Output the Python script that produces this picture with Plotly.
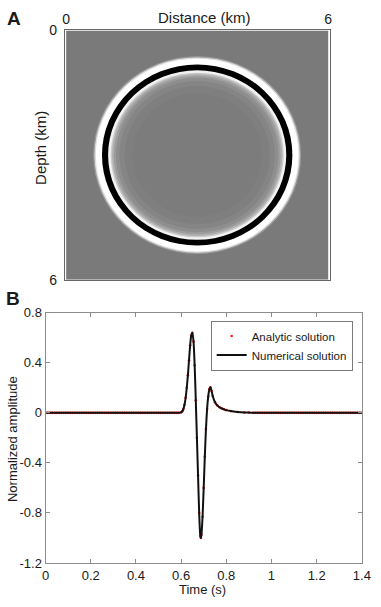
import numpy as np
import plotly.graph_objects as go

# ---------------- Panel A: wavefield snapshot (concentric rings) ----------------
src_x_km = 3.0
src_z_km = 3.0
ring_radius_km = [2.38, 2.35, 2.32, 2.18, 2.04, 1.98, 1.95, 1.91, 1.86, 1.78, 1.66, 1.48]
ring_shade = ["#9c9c9c", "#dedede", "#ffffff", "#000000", "#f2f2f2", "#cacaca",
              "#b0b0b0", "#9c9c9c", "#8e8e8e", "#858585", "#7f7f7f", "#7c7c7c"]
model_size_km = 6
background_shade = "#7a7a7a"
a_ticks = [0, 6]
a_ticktext = ["0", "6"]

# ---------------- Panel B: trace comparison ----------------
time_pre = [round(0.01 * i, 2) for i in range(59)]           # 0.00 .. 0.58
amp_pre = [0.0] * len(time_pre)
time_wave = [0.590, 0.600, 0.605, 0.610, 0.615, 0.620, 0.625, 0.630, 0.635, 0.640,
             0.645, 0.650, 0.655, 0.660, 0.665, 0.670, 0.675, 0.680, 0.685, 0.6875,
             0.690, 0.695, 0.700, 0.705, 0.710, 0.715, 0.720, 0.725, 0.730, 0.735,
             0.740, 0.750, 0.760, 0.770, 0.780, 0.790, 0.800, 0.820, 0.850, 0.880,
             0.900, 0.920]
amp_wave = [0.000, 0.004, 0.012, 0.030, 0.065, 0.120, 0.200, 0.300, 0.420, 0.540,
            0.620, 0.640, 0.570, 0.380, 0.100, -0.200, -0.500, -0.800, -0.985, -1.000,
            -0.975, -0.830, -0.600, -0.350, -0.130, 0.030, 0.130, 0.190, 0.205, 0.175,
            0.135, 0.085, 0.060, 0.045, 0.035, 0.028, 0.022, 0.014, 0.007, 0.003,
            0.002, 0.000]
time_post = [round(0.93 + 0.01 * i, 2) for i in range(48)]    # 0.93 .. 1.40
amp_post = [0.0] * len(time_post)

time_s = time_pre + time_wave + time_post
analytic = amp_pre + amp_wave + amp_post
numerical = amp_pre + amp_wave + amp_post

b_yticks = [-1.2, -0.8, -0.4, 0, 0.4, 0.8]
b_yticktext = ["-1.2", "-0.8", "-0.4", "0", "0.4", "0.8"]
b_xticks = [0, 0.2, 0.4, 0.6, 0.8, 1.0, 1.2, 1.4]
b_xticktext = ["0", "0.2", "0.4", "0.6", "0.8", "1", "1.2", "1.4"]

W, H = 381, 607
FONT = "Liberation Sans, Arial, sans-serif"
TXT = "#1a1a1a"


def px(x):
    return x / W


def py(y):
    return 1 - y / H


fig = go.Figure()

fig.add_trace(go.Scatter(
    x=time_s, y=analytic, mode="markers", name="Analytic solution",
    marker=dict(color="#ff1a1a", size=2.6), xaxis="x2", yaxis="y2"))
fig.add_trace(go.Scatter(
    x=time_s, y=numerical, mode="lines", name="Numerical solution",
    line=dict(color="#111111", width=2, shape="spline", smoothing=0.6),
    xaxis="x2", yaxis="y2"))

shapes = [dict(type="rect", xref="x", yref="y", x0=0, x1=model_size_km, y0=0, y1=model_size_km,
               fillcolor=background_shade, line=dict(width=0), layer="below")]
for r, c in zip(ring_radius_km, ring_shade):
    shapes.append(dict(type="circle", xref="x", yref="y",
                       x0=src_x_km - r, x1=src_x_km + r, y0=src_z_km - r, y1=src_z_km + r,
                       fillcolor=c, line=dict(width=0), layer="below"))

axis_gray = "#8c8c8c"
fig.update_layout(
    width=W, height=H, margin=dict(l=0, r=0, t=0, b=0),
    paper_bgcolor="white", plot_bgcolor="white",
    font=dict(family=FONT, color=TXT, size=13),
    shapes=shapes,
    xaxis=dict(domain=[px(63), px(337)], anchor="y", range=[-0.03, 6.03], side="top",
               tickvals=a_ticks, ticktext=a_ticktext, ticks="", showgrid=False, zeroline=False,
               showline=True, linecolor="#666666", mirror=True, tickfont=dict(size=14),
               ticklabelstandoff=0),
    yaxis=dict(domain=[py(279), py(23)], anchor="x", range=[6, 0],
               tickvals=a_ticks, ticktext=a_ticktext, ticks="", showgrid=False, zeroline=False,
               showline=True, linecolor="#666666", mirror=True, tickfont=dict(size=14),
               ticklabelstandoff=4),
    xaxis2=dict(domain=[px(43), px(370.5)], anchor="y2", range=[0, 1.4],
                tickvals=b_xticks, ticktext=b_xticktext, ticks="inside", ticklen=4,
                tickcolor=axis_gray, showline=True, linecolor=axis_gray, linewidth=1,
                mirror="ticks", showgrid=False, zeroline=False, tickfont=dict(size=13),
                ticklabeloverflow="allow"),
    yaxis2=dict(domain=[py(570), py(313)], anchor="x2", range=[-1.2, 0.8],
                tickvals=b_yticks, ticktext=b_yticktext, ticks="inside", ticklen=4,
                tickcolor=axis_gray, showline=True, linecolor=axis_gray, linewidth=1,
                mirror="ticks", showgrid=False, zeroline=False, tickfont=dict(size=13)),
    legend=dict(x=px(361), y=py(321), xanchor="right", yanchor="top",
                bgcolor="white", bordercolor="#7a7a7a", borderwidth=1,
                font=dict(size=11.5, color=TXT), tracegroupgap=0),
    showlegend=True,
)

annos = [
    dict(text="<b>A</b>", x=px(10), y=py(11), font=dict(size=19)),
    dict(text="<b>B</b>", x=px(9), y=py(298), font=dict(size=19)),
    dict(text="Distance (km)", x=px(208), y=py(10), font=dict(size=15)),
    dict(text="Depth (km)", x=px(38), y=py(144), font=dict(size=15), textangle=-90),
    dict(text="Normalized amplitude", x=px(9), y=py(443), font=dict(size=13), textangle=-90),
    dict(text="Time (s)", x=px(206), y=py(597), font=dict(size=13)),
]
for a in annos:
    a.update(xref="paper", yref="paper", showarrow=False, xanchor="center", yanchor="middle")
fig.update_layout(annotations=annos)

fig.write_html("out.html", config={"displayModeBar": False},
               post_script="document.body.style.margin='0';document.body.style.overflow='hidden';")
